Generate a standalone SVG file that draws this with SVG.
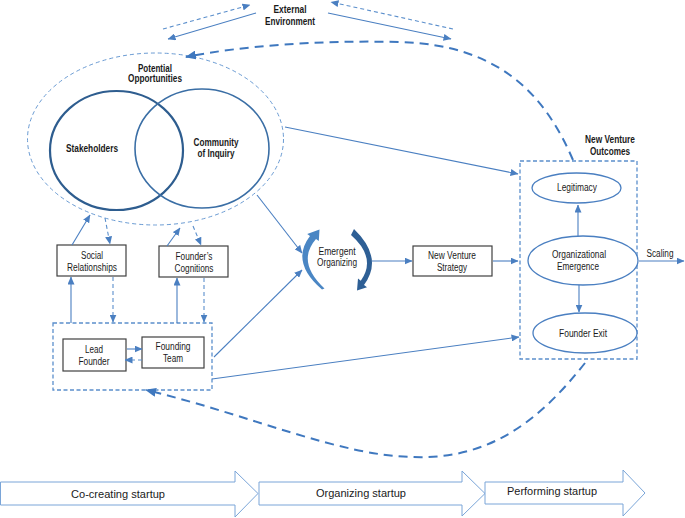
<svg xmlns="http://www.w3.org/2000/svg" width="685" height="518" viewBox="0 0 685 518">
<defs>
<marker id="ah" markerUnits="userSpaceOnUse" markerWidth="8" markerHeight="7" refX="7.5" refY="3.5" orient="auto"><path d="M0,0 L8,3.5 L0,7 Z" fill="#4a7fc1"/></marker>
<marker id="ahL" markerUnits="userSpaceOnUse" markerWidth="11" markerHeight="9" refX="10" refY="4.5" orient="auto"><path d="M0,0 L11,4.5 L0,9 Z" fill="#3f78bf"/></marker>
</defs>
<style>
.t{font-family:"Liberation Sans",Arial,sans-serif;font-size:10px;fill:#1a1a1a;text-anchor:middle}
.b{font-weight:bold}
.s{font-size:11px}
.ln{stroke:#4a7fc1;stroke-width:1.1;fill:none}
.dl{stroke:#5b8fcc;stroke-width:1.1;fill:none;stroke-dasharray:4 3}
.big{stroke:#3f78bf;stroke-width:2;fill:none;stroke-dasharray:9 6}
.box{fill:#fff;stroke:#404040;stroke-width:1.2}
.grp{fill:none;stroke:#5b8fcc;stroke-width:1.3;stroke-dasharray:4 2.5}
.ov{fill:#fff;stroke:#4a7fc1;stroke-width:1.3}
.stage{fill:#fff;stroke:#7aa5d8;stroke-width:1}
</style>

<g id="stages">
<path class="stage" d="M0.5,482 L235,482 L235,471 L258,493.5 L235,517 L235,505 L0.5,505 Z"/>
<path class="stage" d="M259,482 L462,482 L462,471 L485,493.5 L462,516 L462,505 L259,505 Z"/>
<path class="stage" d="M485,482 L623,482 L623,470 L645,493 L623,516 L623,504 L485,504 Z"/>
<text class="t s" x="118" y="498" textLength="94" lengthAdjust="spacingAndGlyphs">Co-creating startup</text>
<text class="t s" x="361" y="497" textLength="90" lengthAdjust="spacingAndGlyphs">Organizing startup</text>
<text class="t s" x="552" y="495" textLength="90" lengthAdjust="spacingAndGlyphs">Performing startup</text>
</g>

<g id="external-environment">
<text class="t b" x="290" y="13" textLength="33" lengthAdjust="spacingAndGlyphs">External</text>
<text class="t b" x="290" y="25" textLength="50" lengthAdjust="spacingAndGlyphs">Environment</text>
</g>

<g id="potential-opportunities">
<ellipse cx="155.5" cy="139" rx="128" ry="86" fill="none" stroke="#6a9bd3" stroke-width="1" stroke-dasharray="4 3"/>
<text class="t b" x="155" y="72" textLength="34" lengthAdjust="spacingAndGlyphs">Potential</text>
<text class="t b" x="155" y="82" textLength="54" lengthAdjust="spacingAndGlyphs">Opportunities</text>
</g>

<g id="stakeholders">
<ellipse cx="116.5" cy="150.5" rx="66.5" ry="59.5" fill="none" stroke="#2e5d8f" stroke-width="2.2"/>
<text class="t b" x="92" y="152" textLength="52" lengthAdjust="spacingAndGlyphs">Stakeholders</text>
</g>

<g id="community-of-inquiry">
<ellipse cx="202" cy="148.5" rx="67" ry="59.5" fill="none" stroke="#3a6ea5" stroke-width="1.6"/>
<text class="t b" x="216" y="145.5" textLength="45" lengthAdjust="spacingAndGlyphs">Community</text>
<text class="t b" x="216" y="157" textLength="37" lengthAdjust="spacingAndGlyphs">of Inquiry</text>
</g>

<g id="social-relationships">
<rect class="box" x="57" y="245" width="69" height="31"/>
<text class="t" x="92" y="259" textLength="22" lengthAdjust="spacingAndGlyphs">Social</text>
<text class="t" x="92" y="271" textLength="50" lengthAdjust="spacingAndGlyphs">Relationships</text>
</g>

<g id="founders-cognitions">
<rect class="box" x="159" y="246" width="69" height="31"/>
<text class="t" x="194" y="260" textLength="37" lengthAdjust="spacingAndGlyphs">Founder’s</text>
<text class="t" x="194" y="272" textLength="39" lengthAdjust="spacingAndGlyphs">Cognitions</text>
</g>

<g id="founders-group">
<rect class="grp" x="53" y="323" width="159" height="67"/>
</g>

<g id="lead-founder">
<rect class="box" x="63" y="339" width="63" height="32"/>
<text class="t" x="94" y="353" textLength="18" lengthAdjust="spacingAndGlyphs">Lead</text>
<text class="t" x="94" y="365" textLength="31" lengthAdjust="spacingAndGlyphs">Founder</text>
</g>

<g id="founding-team">
<rect class="box" x="142" y="337" width="62" height="31"/>
<text class="t" x="173" y="350" textLength="35" lengthAdjust="spacingAndGlyphs">Founding</text>
<text class="t" x="173" y="362" textLength="20" lengthAdjust="spacingAndGlyphs">Team</text>
</g>

<g id="emergent-organizing">
<path d="M322,289.5 Q290,262 310,236 L307.2,233.9 L319.5,229.5 L318.8,241.1 L316,239 Q296,262 324.5,288.5 Z" fill="#4a86c4"/>
<path d="M354,229 Q384,258 364,285 L367,287.3 L357,290.5 L358,278.6 L360.8,280.8 Q377,258 351,235 Z" fill="#2e5f95"/>
<text class="t" x="337" y="255" textLength="37" lengthAdjust="spacingAndGlyphs">Emergent</text>
<text class="t" x="337" y="266" textLength="40" lengthAdjust="spacingAndGlyphs">Organizing</text>
</g>

<g id="new-venture-strategy">
<rect class="box" x="413" y="246" width="79" height="30"/>
<text class="t" x="452" y="259" textLength="48" lengthAdjust="spacingAndGlyphs">New Venture</text>
<text class="t" x="452" y="271" textLength="30" lengthAdjust="spacingAndGlyphs">Strategy</text>
</g>

<g id="new-venture-outcomes">
<rect class="grp" x="520" y="161" width="117" height="198"/>
<text class="t b" x="610" y="143" textLength="50" lengthAdjust="spacingAndGlyphs">New Venture</text>
<text class="t b" x="610" y="155" textLength="40" lengthAdjust="spacingAndGlyphs">Outcomes</text>
</g>

<g id="legitimacy">
<ellipse class="ov" cx="576.5" cy="188" rx="44.5" ry="15"/>
<text class="t" x="577" y="191" textLength="40" lengthAdjust="spacingAndGlyphs">Legitimacy</text>
</g>

<g id="organizational-emergence">
<ellipse class="ov" cx="583" cy="260.5" rx="55" ry="24.5"/>
<text class="t" x="579" y="258" textLength="54" lengthAdjust="spacingAndGlyphs">Organizational</text>
<text class="t" x="578" y="270" textLength="42" lengthAdjust="spacingAndGlyphs">Emergence</text>
</g>

<g id="founder-exit">
<ellipse class="ov" cx="585" cy="333" rx="52" ry="20"/>
<text class="t" x="583" y="337" textLength="48" lengthAdjust="spacingAndGlyphs">Founder Exit</text>
</g>

<g id="connectors">
<line class="dl" x1="163" y1="29" x2="250" y2="5" marker-end="url(#ah)"/>
<line class="ln" x1="256" y1="13" x2="168" y2="39" marker-end="url(#ah)"/>
<line class="ln" x1="328" y1="13" x2="451" y2="39" marker-end="url(#ah)"/>
<line class="dl" x1="453" y1="29" x2="331" y2="2" marker-end="url(#ah)"/>
<path class="big" d="M573,160 C545,95 500,45 400,42 C320,40 240,46 186,57" marker-end="url(#ahL)"/>
<path class="big" d="M585,363 C540,420 490,460 413,457 C340,456 250,415 146,390" marker-end="url(#ahL)"/>
<line class="ln" x1="72" y1="245" x2="90" y2="215" marker-end="url(#ah)"/>
<line class="dl" x1="105" y1="218" x2="110" y2="244" marker-end="url(#ah)"/>
<line class="ln" x1="167" y1="246" x2="180" y2="228" marker-end="url(#ah)"/>
<line class="dl" x1="193" y1="226" x2="201" y2="245" marker-end="url(#ah)"/>
<line class="ln" x1="71" y1="323" x2="71" y2="277" marker-end="url(#ah)"/>
<line class="dl" x1="113" y1="277" x2="113" y2="322" marker-end="url(#ah)"/>
<line class="ln" x1="177" y1="323" x2="177" y2="278" marker-end="url(#ah)"/>
<line class="dl" x1="204" y1="278" x2="204" y2="322" marker-end="url(#ah)"/>
<line class="ln" x1="127" y1="349" x2="142" y2="349" marker-end="url(#ah)"/>
<line class="dl" x1="142" y1="360" x2="125" y2="360" marker-end="url(#ah)"/>
<line class="ln" x1="257" y1="195" x2="302" y2="253" marker-end="url(#ah)"/>
<line class="ln" x1="214" y1="357" x2="302" y2="270" marker-end="url(#ah)"/>
<line class="ln" x1="212" y1="379" x2="519" y2="337" marker-end="url(#ah)"/>
<line class="ln" x1="285" y1="127" x2="518" y2="174" marker-end="url(#ah)"/>
<line class="ln" x1="372" y1="261" x2="412" y2="261" marker-end="url(#ah)"/>
<line class="ln" x1="493" y1="261" x2="518" y2="261" marker-end="url(#ah)"/>
<line class="ln" x1="578" y1="236" x2="578" y2="205" marker-end="url(#ah)"/>
<line class="ln" x1="579" y1="285" x2="579" y2="312" marker-end="url(#ah)"/>
<line class="ln" x1="639" y1="261" x2="684" y2="261" marker-end="url(#ah)"/>
<text class="t" x="660" y="257" textLength="27" lengthAdjust="spacingAndGlyphs">Scaling</text>
</g>
</svg>
